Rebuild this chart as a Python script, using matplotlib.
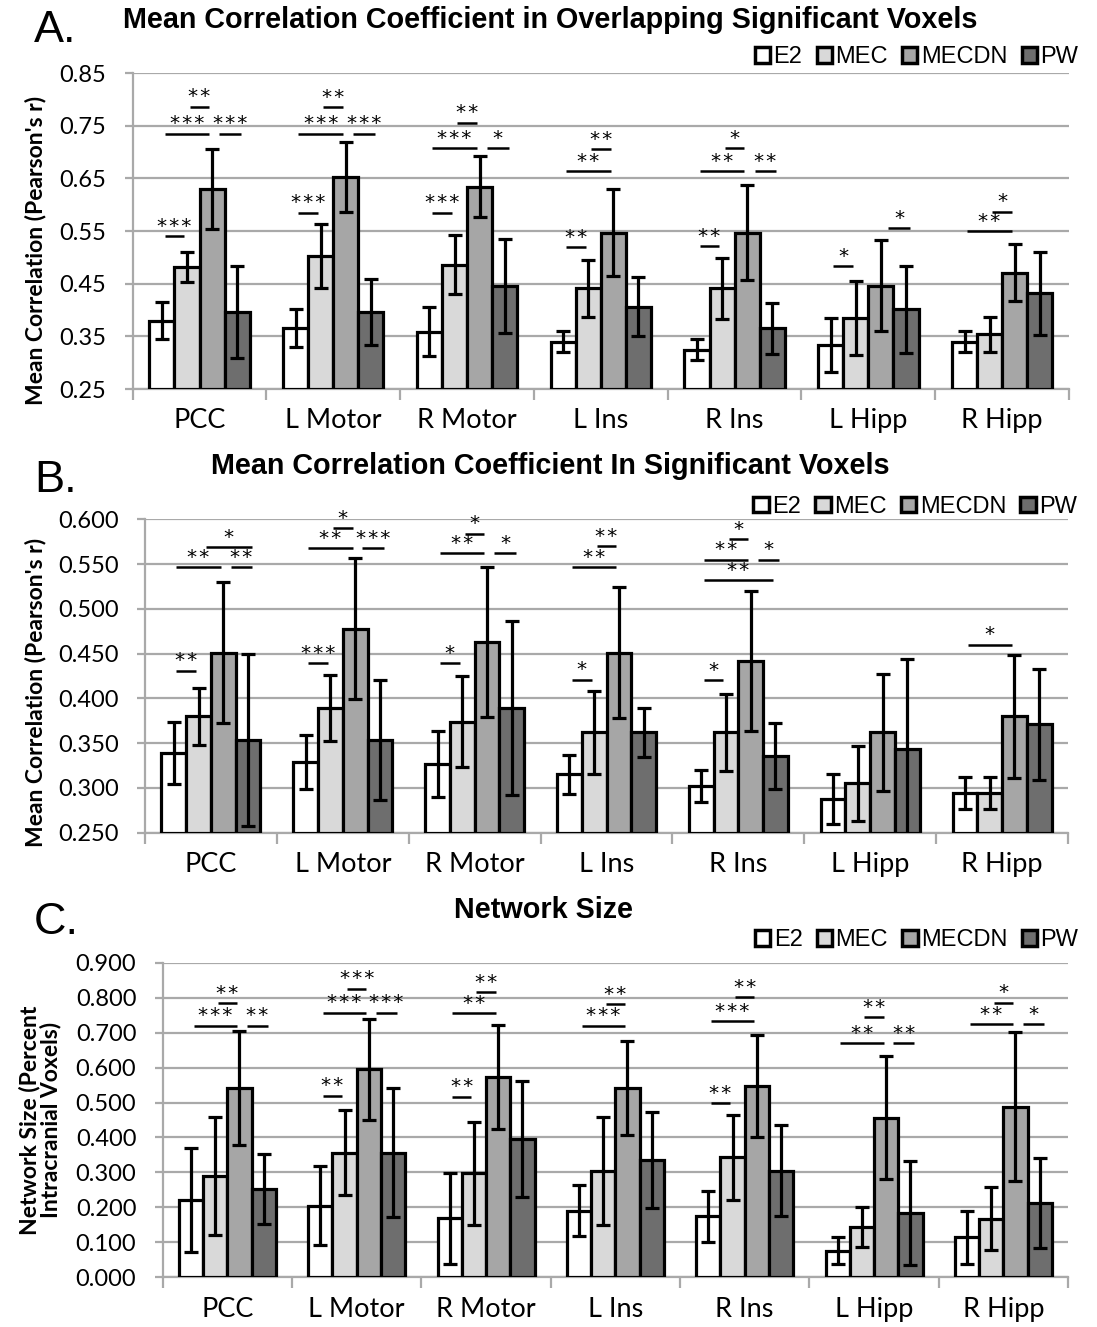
import matplotlib
matplotlib.use("Agg")
import matplotlib.pyplot as plt
from matplotlib import font_manager
from matplotlib.patches import Patch
import numpy as np

REGIONS = ["PCC", "L Motor", "R Motor", "L Ins", "R Ins", "L Hipp", "R Hipp"]
GROUPS = ["E2", "MEC", "MECDN", "PW"]

# Panel A - mean correlation, overlapping significant voxels
A_E2 = [0.380, 0.365, 0.359, 0.340, 0.325, 0.334, 0.340]
A_E2_ERR = [0.036, 0.036, 0.047, 0.020, 0.019, 0.051, 0.020]
A_MEC = [0.482, 0.503, 0.486, 0.441, 0.441, 0.385, 0.354]
A_MEC_ERR = [0.028, 0.061, 0.056, 0.054, 0.058, 0.071, 0.033]
A_MECDN = [0.629, 0.653, 0.634, 0.547, 0.547, 0.446, 0.471]
A_MECDN_ERR = [0.076, 0.066, 0.058, 0.082, 0.090, 0.086, 0.054]
A_PW = [0.396, 0.396, 0.446, 0.406, 0.365, 0.401, 0.432]
A_PW_ERR = [0.087, 0.063, 0.089, 0.056, 0.048, 0.083, 0.079]
# (region, bar a, bar b, line level, label)
A_SIG = [
    (0, 0, 1, 0.540, "***"), (0, 0, 2, 0.735, "***"), (0, 2, 3, 0.735, "***"), (0, 1, 2, 0.786, "**"),
    (1, 0, 1, 0.585, "***"), (1, 0, 2, 0.735, "***"), (1, 2, 3, 0.735, "***"), (1, 1, 2, 0.785, "**"),
    (2, 0, 1, 0.585, "***"), (2, 0, 2, 0.707, "***"), (2, 2, 3, 0.707, "*"), (2, 1, 2, 0.756, "**"),
    (3, 0, 1, 0.520, "**"), (3, 0, 2, 0.663, "**"), (3, 1, 2, 0.705, "**"),
    (4, 0, 1, 0.521, "**"), (4, 0, 2, 0.664, "**"), (4, 1, 2, 0.707, "*"), (4, 2, 3, 0.664, "**"),
    (5, 0, 1, 0.484, "*"), (5, 2, 3, 0.555, "*"),
    (6, 0, 2, 0.550, "**"), (6, 1, 2, 0.587, "*"),
]

# Panel B - mean correlation, significant voxels
B_E2 = [0.339, 0.329, 0.327, 0.315, 0.302, 0.288, 0.294]
B_E2_ERR = [0.035, 0.030, 0.037, 0.022, 0.018, 0.028, 0.018]
B_MEC = [0.380, 0.389, 0.374, 0.362, 0.362, 0.305, 0.294]
B_MEC_ERR = [0.032, 0.037, 0.051, 0.046, 0.043, 0.042, 0.018]
B_MECDN = [0.451, 0.478, 0.463, 0.451, 0.442, 0.362, 0.380]
B_MECDN_ERR = [0.079, 0.079, 0.084, 0.073, 0.078, 0.065, 0.069]
B_PW = [0.354, 0.354, 0.389, 0.362, 0.336, 0.344, 0.371]
B_PW_ERR = [0.096, 0.067, 0.097, 0.027, 0.037, 0.100, 0.062]
B_SIG = [
    (0, 0, 1, 0.431, "**"), (0, 0, 2, 0.547, "**"), (0, 1, 3, 0.569, "*"), (0, 2, 3, 0.547, "**"),
    (1, 0, 1, 0.439, "***"), (1, 0, 2, 0.568, "**"), (1, 2, 3, 0.568, "***"), (1, 1, 2, 0.590, "*"),
    (2, 0, 1, 0.439, "*"), (2, 0, 2, 0.562, "**"), (2, 2, 3, 0.562, "*"), (2, 1, 2, 0.584, "*"),
    (3, 0, 1, 0.421, "*"), (3, 0, 2, 0.547, "**"), (3, 1, 2, 0.570, "**"),
    (4, 0, 1, 0.420, "*"), (4, 0, 2, 0.555, "**"), (4, 1, 2, 0.578, "*"), (4, 2, 3, 0.555, "*"),
    (4, 0, 3, 0.532, "**"),
    (6, 0, 2, 0.460, "*"),
]

# Panel C - network size
C_E2 = [0.221, 0.205, 0.169, 0.191, 0.175, 0.076, 0.114]
C_E2_ERR = [0.148, 0.113, 0.130, 0.073, 0.073, 0.038, 0.075]
C_MEC = [0.290, 0.357, 0.297, 0.305, 0.343, 0.145, 0.167]
C_MEC_ERR = [0.170, 0.122, 0.146, 0.154, 0.122, 0.057, 0.090]
C_MECDN = [0.541, 0.595, 0.572, 0.541, 0.548, 0.457, 0.488]
C_MECDN_ERR = [0.163, 0.145, 0.149, 0.134, 0.146, 0.175, 0.213]
C_PW = [0.252, 0.357, 0.396, 0.336, 0.305, 0.183, 0.212]
C_PW_ERR = [0.100, 0.184, 0.165, 0.137, 0.130, 0.149, 0.128]
C_SIG = [
    (0, 0, 2, 0.720, "***"), (0, 1, 2, 0.784, "**"), (0, 2, 3, 0.720, "**"),
    (1, 0, 1, 0.520, "**"), (1, 0, 2, 0.757, "***"), (1, 2, 3, 0.757, "***"), (1, 1, 2, 0.826, "***"),
    (2, 0, 1, 0.517, "**"), (2, 0, 2, 0.755, "**"), (2, 1, 2, 0.816, "**"),
    (3, 0, 2, 0.720, "***"), (3, 1, 2, 0.782, "**"),
    (4, 0, 1, 0.498, "**"), (4, 0, 2, 0.734, "***"), (4, 1, 2, 0.801, "**"),
    (5, 0, 2, 0.671, "**"), (5, 2, 3, 0.671, "**"), (5, 1, 2, 0.744, "**"),
    (6, 0, 2, 0.724, "**"), (6, 2, 3, 0.724, "*"), (6, 1, 2, 0.786, "*"),
]

COLORS = ["#ffffff", "#d9d9d9", "#a6a6a6", "#6e6e6e"]
GRID = "#a9a9a9"
BAR_W = 0.1875


def _has_font(name):
    try:
        font_manager.findfont(name, fallback_to_default=False)
        return True
    except Exception:
        return False


NARROW = "Liberation Sans Narrow" if _has_font("Liberation Sans Narrow") else "Liberation Sans"
NARROW_SCALE = 1.0 if NARROW == "Liberation Sans Narrow" else 0.9
TICK_FONT = "Lato"


def draw_panel(ax, vals, errs, sigs, ylim, step, fmt):
    x = np.arange(len(REGIONS)) + 0.5
    ymin = ylim[0]
    for k in range(4):
        xk = x + (k - 1.5) * BAR_W
        v = np.array(vals[k])
        ax.bar(xk, v - ymin, BAR_W, bottom=ymin, color=COLORS[k],
               edgecolor="black", linewidth=2.3, zorder=3)
        ax.errorbar(xk, v, yerr=errs[k], fmt="none", ecolor="black",
                    elinewidth=2.3, capsize=5, capthick=2.3, zorder=4)

    # significance brackets: a line from bar a to bar b with stars above;
    # lines ending on PW sit a little to the right, as in the original
    pad = 0.02
    for r, a, b, lvl, lab in sigs:
        x0 = r + 0.5 + (a - 1.5) * BAR_W + pad
        x1 = r + 0.5 + (b - 1.5) * BAR_W - pad
        if b == 3 and a > 0:
            x0 += 0.035
            x1 += 0.05
        ax.plot([x0, x1], [lvl, lvl], color="black", lw=1.8,
                solid_capstyle="butt", clip_on=False, zorder=5)
        ax.annotate("\u200a".join(lab), xy=((x0 + x1) / 2, lvl), xytext=(0, 7),
                    textcoords="offset points", ha="center", va="center",
                    fontsize=14.5, family="DejaVu Sans", zorder=5,
                    annotation_clip=False)

    ax.set_xlim(0, len(REGIONS))
    ax.set_ylim(*ylim)
    ticks = np.arange(ylim[0], ylim[1] + step / 2, step)
    ax.set_yticks(ticks)
    ax.set_yticklabels([fmt.format(t) for t in ticks], family=TICK_FONT, fontsize=17)
    ax.yaxis.grid(True, color=GRID, lw=1.6, zorder=0)
    ax.set_axisbelow(True)

    ax.set_xticks(np.arange(len(REGIONS) + 1))
    ax.set_xticklabels([])
    ax.set_xticks(x, minor=True)
    ax.set_xticklabels(REGIONS, minor=True, family=TICK_FONT, fontsize=19.5)
    ax.tick_params(axis="x", which="major", length=8, width=1.6, color=GRID)
    ax.tick_params(axis="x", which="minor", length=0, pad=14)
    ax.tick_params(axis="y", length=6, width=1.6, color=GRID, pad=13)

    for s in ("top", "right"):
        ax.spines[s].set_visible(False)
    for s in ("left", "bottom"):
        ax.spines[s].set_color(GRID)
        ax.spines[s].set_linewidth(1.6)


def add_legend(ax, anchor):
    handles = [Patch(facecolor=c, edgecolor="black", linewidth=2.5) for c in COLORS]
    ax.legend(handles, GROUPS, ncol=4, loc="center right", bbox_to_anchor=anchor,
              frameon=False, handlelength=0.65, handleheight=0.65,
              handletextpad=0.15, columnspacing=0.6, borderaxespad=0,
              prop={"family": NARROW, "size": 17})


W, H = 1097, 1327
fig = plt.figure(figsize=(W / 100, H / 100), dpi=100)
fig.patch.set_facecolor("white")


def px_axes(x0, x1, y0, y1):
    return fig.add_axes([x0 / W, 1 - y1 / H, (x1 - x0) / W, (y1 - y0) / H])


axA = px_axes(132.7, 1069, 73, 389)
axB = px_axes(145, 1068, 519.3, 832.7)
axC = px_axes(162.7, 1068, 962.7, 1277.3)

draw_panel(axA, [A_E2, A_MEC, A_MECDN, A_PW],
           [A_E2_ERR, A_MEC_ERR, A_MECDN_ERR, A_PW_ERR], A_SIG,
           (0.25, 0.85), 0.10, "{:.2f}")
draw_panel(axB, [B_E2, B_MEC, B_MECDN, B_PW],
           [B_E2_ERR, B_MEC_ERR, B_MECDN_ERR, B_PW_ERR], B_SIG,
           (0.25, 0.60), 0.05, "{:.3f}")
draw_panel(axC, [C_E2, C_MEC, C_MECDN, C_PW],
           [C_E2_ERR, C_MEC_ERR, C_MECDN_ERR, C_PW_ERR], C_SIG,
           (0.0, 0.90), 0.10, "{:.3f}")

add_legend(axA, (1.02, 1.05))
add_legend(axB, (1.02, 1.04))
add_legend(axC, (1.022, 1.072))

title_kw = dict(ha="center", va="center", family=NARROW, weight="bold",
                size=23 * NARROW_SCALE)
fig.text(550 / W, 1 - 20 / H,
         "Mean Correlation Coefficient in Overlapping Significant Voxels", **title_kw)
fig.text(550 / W, 1 - 466 / H,
         "Mean Correlation Coefficient In Significant Voxels", **title_kw)
fig.text(544 / W, 1 - 910 / H, "Network Size", **title_kw)

letter_kw = dict(ha="left", va="center", family=NARROW, size=36 * NARROW_SCALE)
fig.text(34 / W, 1 - 30 / H, "A.", **letter_kw)
fig.text(34 / W, 1 - 480 / H, "B.", **letter_kw)
fig.text(34 / W, 1 - 922 / H, "C.", **letter_kw)

ylab_kw = dict(ha="center", va="center", rotation=90, family=TICK_FONT,
               weight="bold", size=16.5)
fig.text(36 / W, 1 - 250 / H, "Mean Correlation (Pearson's r)", **ylab_kw)
fig.text(36 / W, 1 - 692 / H, "Mean Correlation (Pearson's r)", **ylab_kw)
fig.text(40 / W, 1 - 1120 / H, "Network Size (Percent\nIntracranial Voxels)",
         linespacing=0.95, **ylab_kw)

fig.savefig("out.png", dpi=100, facecolor="white")
